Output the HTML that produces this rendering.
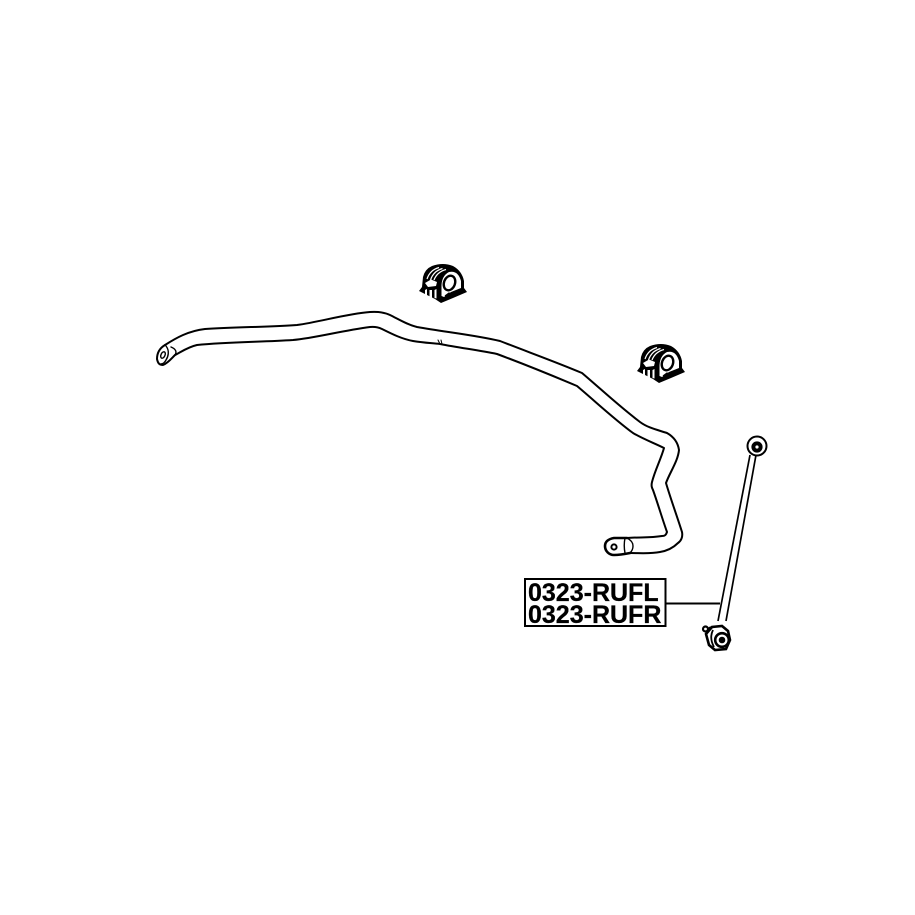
<!DOCTYPE html>
<html>
<head>
<meta charset="utf-8">
<style>
html,body{margin:0;padding:0;background:#fff;}
svg{display:block;}
</style>
</head>
<body>
<svg width="915" height="915" viewBox="0 0 915 915" xmlns="http://www.w3.org/2000/svg">
<rect width="915" height="915" fill="#fff"/>
<defs>
<g id="bushing">
  <path d="M419 291 L422 287 L423 277 Q425 269 432 266 Q443 262 453 266 Q462 271 464 281 L464 288 L467 292 L453 298 L441 303 L435 299 Z" fill="#000"/>
  <path d="M427 279 Q430 270 439 267.500" fill="none" stroke="#fff" stroke-width="1.2"/>
  <path d="M430.500 280 Q433.500 271 442.500 268.500" fill="none" stroke="#fff" stroke-width="1.2"/>
  <path d="M434 280 Q437 272 446 269.500" fill="none" stroke="#fff" stroke-width="1.2"/>
  <path d="M425 283 L431 279.500 L437 282 L436 286 L428 287 Z" fill="#fff"/>
  <path d="M425 290 L425 295 L427 296 L427 289 Z" fill="#fff"/>
  <path d="M429.500 290 L429.500 297 L432 298 L432 290 Z" fill="#fff"/>
  <path d="M434.500 290 L434.500 298 L436.500 298.500 L436.500 289 Z" fill="#fff"/>
  <path d="M441.500 288 Q441 276 449 272 Q458 270 461 281 L461 288 L451 292 L444 297 L441.500 296 Z" fill="#fff"/>
  <ellipse cx="449.500" cy="283" rx="5.500" ry="7.500" transform="rotate(20 449.500 283)" fill="none" stroke="#000" stroke-width="2.400"/>
  <ellipse cx="449.500" cy="283" rx="2.600" ry="4.600" transform="rotate(20 449.500 283)" fill="#fff"/>
  <path d="M445 296 L449 293 L451 296 L456 292" fill="none" stroke="#000" stroke-width="1.300"/>
</g>
</defs>

<!-- Stabilizer bar -->
<g fill="none" stroke="#000" stroke-width="2" stroke-linecap="round" stroke-linejoin="round">
  <path d="M165 345 C176 338 188 331 205 329 C235 327 270 327 297 325 C320 322 345 314 370 312 C378 311.500 384 312 390 315 C400 320 408 325 417 327 C445 332 475 335 500 341 C528 352 556 362 582 373 C602 390 620 407 640 422 C648 428 658 430 667 433 C674 437 678 443 679 450 C678 461 670 472 666 483 C671 500 677 516 682 532 C683 537 681 541 678 543 C672 549 666 551 660 552 C650 554 640 553 630 553"/>
  <path d="M175 355 C181 352 188 347 197 345 C228 342 262 342 293 340 C315 338 340 331 370 327 C375 326.500 378 327 382 329 C392 334 402 339 413 341 C425 343 432 343 440 344 C460 348 478 350 497 354 C524 364 551 375 577 386 C596 402 614 419 633 433 C643 439 654 443 664 448 C661 459 655 470 652 482 C651 486 652 488 653 490 C658 504 662 518 667 532 C666 535 665 536 662 536 C650 538 638 537 627 538"/>
  <path d="M438 340 L440 344 M441 340 L442 344" stroke-width="1"/>
  <!-- left end -->
  <path d="M165 345 C160 348 157 353 157 359 C158 364 160 365 163 365 C168 363 171 359 175 355" stroke-width="2"/>
  <path d="M171 347 C176 349 177 352 175 355 M166 346 C170 351 168 357 166 360 C165 362 163 364 161 364" stroke-width="1.400"/>
  <ellipse cx="163" cy="355" rx="2" ry="3.400" transform="rotate(25 163 355)" stroke-width="1.400"/>
  <!-- right end -->
  <path d="M627 538 L614 538 C608 539 605 542 605 546 C605 551 609 555 614 555 C620 555 625 554 630 553" stroke-width="2.600"/>
  <path d="M625 538 C624 543 624 548 625 553 M627 538 C631 540 633 543 633 546 C633 549 632 551 630 553" stroke-width="1.400"/>
  <circle cx="614" cy="547" r="2.600" stroke-width="2"/>
</g>

<!-- Bushings -->
<use href="#bushing"/>
<use href="#bushing" transform="translate(218 80)"/>

<!-- Link rod -->
<g fill="none" stroke="#000">
  <path d="M750 455 L718 621" stroke-width="1.700"/>
  <path d="M756 455 L726 621" stroke-width="1.700"/>
  <circle cx="757" cy="446" r="9.500" stroke-width="2" fill="#fff"/>
  <circle cx="757" cy="447" r="3.600" stroke-width="4"/>
  <path d="M666 603.500 H720" stroke-width="2"/>
</g>

<!-- Lower ball joint -->
<g stroke="#000" fill="#fff">
  <circle cx="705.500" cy="629" r="2.500" stroke-width="2.200"/>
  <circle cx="711" cy="630" r="2.500" stroke-width="2.200"/>
  <path d="M706 634 L712 627 L722 626 L728 631 L730 640 L726 649 L715 650 L709 645 Z" stroke-width="2.600"/>
  <circle cx="722" cy="640" r="6.800" stroke-width="2.600"/>
  <circle cx="722" cy="640" r="2.800" fill="#000" stroke-width="1"/>
  <path d="M713 630 Q709 638 714 647" fill="none" stroke-width="1.800"/>
</g>

<!-- Label -->
<rect x="525" y="579" width="140.500" height="47" fill="#fff" stroke="#000" stroke-width="2"/>
<g font-family="'Liberation Sans', sans-serif" font-weight="700" font-size="25" fill="#000" stroke="#000" stroke-width="0.300">
  <text x="528" y="601">0323-RUFL</text>
  <text x="528" y="623">0323-RUFR</text>
</g>
</svg>
</body>
</html>
